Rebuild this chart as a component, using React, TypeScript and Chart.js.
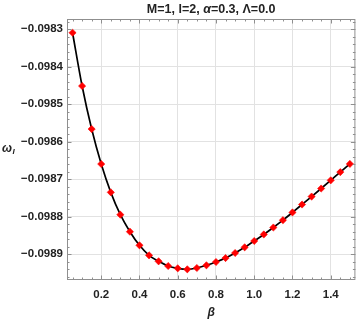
import React, { useEffect, useRef } from "react";
import { Chart, registerables } from "chart.js";

Chart.register(...registerables);

const betas = [
  0.05, 0.1, 0.15, 0.2, 0.25, 0.3, 0.35, 0.4, 0.45, 0.5,
  0.55, 0.6, 0.65, 0.7, 0.75, 0.8, 0.85, 0.9, 0.95, 1.0,
  1.05, 1.1, 1.15, 1.2, 1.25, 1.3, 1.35, 1.4, 1.45, 1.5,
];
const omegaI = [
  -0.0983091, -0.0984512, -0.0985659, -0.0986592, -0.0987347, -0.0987944, -0.0988397, -0.098876, -0.0989027, -0.0989187,
  -0.0989312, -0.0989373, -0.09894, -0.0989365, -0.0989293, -0.0989205, -0.0989099, -0.0988965, -0.0988813, -0.0988645,
  -0.098847, -0.0988285, -0.098809, -0.0987883, -0.0987672, -0.098746, -0.0987245, -0.0987027, -0.0986808, -0.098659,
];
const xTickValues = [0.2, 0.4, 0.6, 0.8, 1.0, 1.2, 1.4];
const yTickValues = [-0.0983, -0.0984, -0.0985, -0.0986, -0.0987, -0.0988, -0.0989];
const xRange = [0.021, 1.529];
const yRange = [-0.0989685, -0.0982725];
const xMinorStep = 0.05;
const yMinorStep = 0.00002;

const titleParts = [
  { text: "M=1, l=2, ", italic: false },
  { text: "α", italic: true },
  { text: "=0.3, Λ=0.0", italic: false },
];
const xTitle = "β";
const yTitleMain = "ω";
const yTitleSub = "I";

const FONT = "'Liberation Sans', Arial, sans-serif";
const TEXT = "#222222";
const FRAME = "#8f8f8f";

const decorPlugin = {
  id: "decor",
  afterDraw(chart: any) {
    const { ctx, chartArea, scales } = chart;
    const { left, right, top, bottom } = chartArea;
    const xs = scales.x;
    const ys = scales.y;
    ctx.save();
    ctx.strokeStyle = FRAME;
    ctx.lineWidth = 1;
    ctx.strokeRect(left + 0.5, top + 0.5, right - left - 1, bottom - top - 1);
    const line = (x1: number, y1: number, x2: number, y2: number) => {
      ctx.beginPath();
      ctx.moveTo(x1, y1);
      ctx.lineTo(x2, y2);
      ctx.stroke();
    };
    const nX = Math.round((xRange[1] - xRange[0]) / xMinorStep) + 2;
    for (let i = 0; i <= nX; i++) {
      const v = Math.round((i * xMinorStep) * 1000) / 1000;
      if (v < xRange[0] || v > xRange[1]) continue;
      const major = xTickValues.some((t) => Math.abs(t - v) < 1e-6);
      const len = major ? 4.5 : 2.5;
      const px = Math.round(xs.getPixelForValue(v)) + 0.5;
      line(px, bottom, px, bottom - len);
      line(px, top, px, top + len);
    }
    const startY = Math.ceil(yRange[0] / yMinorStep);
    const endY = Math.floor(yRange[1] / yMinorStep);
    for (let k = startY; k <= endY; k++) {
      const v = k * yMinorStep;
      const major = yTickValues.some((t) => Math.abs(t - v) < 1e-9);
      const len = major ? 4.5 : 2.5;
      const py = Math.round(ys.getPixelForValue(v)) + 0.5;
      line(left, py, left + len, py);
      line(right, py, right - len, py);
    }
    ctx.fillStyle = TEXT;
    ctx.textBaseline = "middle";
    ctx.textAlign = "left";
    const tFont = (it: boolean) => `${it ? "italic " : ""}bold 12.5px ${FONT}`;
    let total = 0;
    for (const p of titleParts) {
      ctx.font = tFont(p.italic);
      total += ctx.measureText(p.text).width;
    }
    let cx = (left + right) / 2 - total / 2;
    for (const p of titleParts) {
      ctx.font = tFont(p.italic);
      ctx.fillText(p.text, cx, 9.5);
      cx += ctx.measureText(p.text).width;
    }
    ctx.font = `italic bold 12px ${FONT}`;
    ctx.textAlign = "center";
    ctx.fillText(xTitle, (left + right) / 2, 313);
    ctx.textAlign = "left";
    ctx.font = `italic bold 12px ${FONT}`;
    ctx.fillText(yTitleMain, 2, 149);
    const w = ctx.measureText(yTitleMain).width;
    ctx.font = `italic bold 8px ${FONT}`;
    ctx.fillText(yTitleSub, 2 + w + 0.5, 152);
    ctx.restore();
  },
};

export default function App() {
  const ref = useRef<HTMLCanvasElement | null>(null);
  useEffect(() => {
    if (!ref.current) return;
    const chart = new Chart(ref.current, {
      type: "line",
      data: {
        datasets: [
          {
            data: betas.map((b, i) => ({ x: b, y: omegaI[i] })),
            borderColor: "#000000",
            borderWidth: 1.7,
            cubicInterpolationMode: "monotone",
            pointStyle: "rectRot",
            pointRadius: 3.6,
            pointBackgroundColor: "#ff0000",
            pointBorderColor: "#ff0000",
            pointBorderWidth: 0.6,
            fill: false,
          },
        ],
      },
      options: {
        animation: false,
        responsive: false,
        layout: { padding: { top: 19, right: 1, left: 0, bottom: 0 } },
        plugins: {
          legend: { display: false },
          tooltip: { enabled: false },
          title: { display: false },
        },
        scales: {
          x: {
            type: "linear",
            min: xRange[0],
            max: xRange[1],
            afterBuildTicks: (s: any) => {
              s.ticks = xTickValues.map((v) => ({ value: v }));
            },
            afterFit: (s: any) => {
              s.height = 42;
            },
            grid: { color: "#e2e2e2", lineWidth: 1, drawTicks: false },
            border: { display: false },
            ticks: {
              padding: 8,
              color: TEXT,
              font: { family: FONT, size: 11.5, weight: "bold" },
              maxRotation: 0,
              autoSkip: false,
              callback: (v: any) => Number(v).toFixed(1),
            },
          },
          y: {
            type: "linear",
            min: yRange[0],
            max: yRange[1],
            afterBuildTicks: (s: any) => {
              s.ticks = yTickValues.map((v) => ({ value: v }));
            },
            afterFit: (s: any) => {
              s.width = 67;
            },
            grid: { color: "#e2e2e2", lineWidth: 1, drawTicks: false },
            border: { display: false },
            ticks: {
              padding: 4,
              color: TEXT,
              font: { family: FONT, size: 11.5, weight: "bold" },
              autoSkip: false,
              callback: (v: any) => "−" + Math.abs(Number(v)).toFixed(4),
            },
          },
        },
      },
      plugins: [decorPlugin],
    } as any);
    return () => chart.destroy();
  }, []);
  return (
    <div style={{ position: "absolute", left: 0, top: 0, width: 360, height: 322, background: "#ffffff" }}>
      <canvas ref={ref} width={360} height={322} style={{ display: "block" }} />
    </div>
  );
}
